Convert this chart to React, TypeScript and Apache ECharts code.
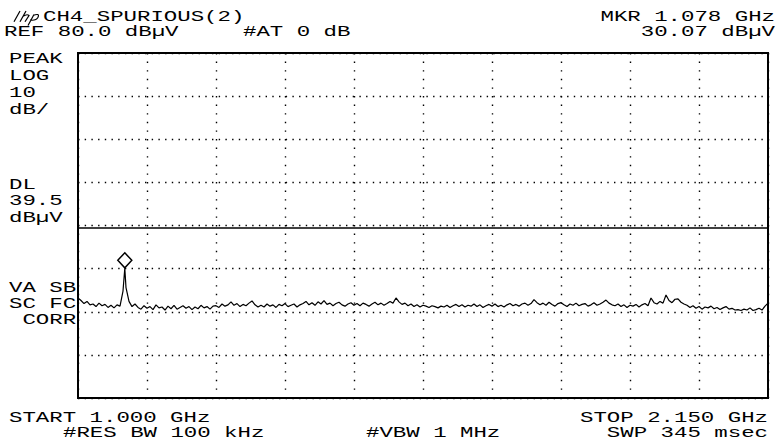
import React, { useEffect, useRef } from "react";
import * as echarts from "echarts";

// ---- instrument settings ----
const START_MHZ = 1000;
const STOP_MHZ = 2150;
const REF_LEVEL = 80;
const DB_PER_DIV = 10;
const DIVS_Y = 8;
const DIVS_X = 10;
const DISPLAY_LINE = 39.5;
const MARKER_MHZ = 1078;
const MARKER_LEVEL = 30.07;

// ---- trace levels (dBµV), sampled evenly from START to STOP ----
const TRACE_LEVELS = [
  23.2, 22.6, 21.9, 22.4, 21.6,
  21.8, 21.2, 22.0, 21.4, 21.7, 21.0, 21.5, 20.9, 21.6, 21.3,
  24.8, 25.6, 22.4, 21.2, 21.8,
  21.0, 20.6, 21.4, 20.8, 21.2, 20.5, 21.6, 20.9, 21.1, 20.4, 21.3, 20.7, 21.5,
  20.6, 21.0, 21.4, 20.8, 21.2, 20.5, 21.1, 20.7, 21.5, 20.9, 21.2, 20.6, 21.3,
  21.4, 21.0, 21.8, 21.3, 21.6, 22.3, 21.5, 21.9, 21.2, 21.7, 21.4, 22.0, 22.5, 21.6, 21.1,
  21.5, 21.1, 21.8, 21.3, 21.6, 21.0, 21.7, 21.4, 21.9, 21.2, 21.5, 21.8, 21.1, 21.6,
  21.9, 22.4, 21.6, 22.1, 21.5, 22.3, 21.8, 22.6, 21.7, 22.0, 21.4, 21.9, 22.2, 21.6,
  21.3, 21.8, 22.1, 21.5, 21.9, 21.4, 22.0, 21.7, 21.3, 21.8, 22.2, 21.6, 22.0, 21.5,
  21.9, 22.4, 22.0, 23.2,
  22.3, 21.7, 22.0, 21.4, 21.8, 21.2, 21.6, 21.1, 21.5, 21.3, 21.0, 21.4, 21.2, 20.9,
  21.3, 21.1, 21.5, 21.0, 21.4, 21.7, 21.2, 21.6, 21.1, 21.5, 21.3, 21.8, 21.2, 21.6,
  21.0, 21.4, 21.7, 21.3, 21.8, 21.2, 21.5, 21.1, 21.6, 21.9, 21.4, 21.7, 21.3, 21.8,
  22.0, 21.5,
  21.9, 22.8, 22.1, 21.6,
  22.0, 21.5, 22.2, 21.7, 21.3, 21.9, 22.1, 21.6, 21.2, 21.8, 21.5, 22.0, 21.4, 21.7,
  21.9, 21.3, 21.6, 22.1, 21.5, 21.8, 22.2,
  22.7, 22.0, 21.6,
  21.4, 21.8, 21.2, 21.6, 21.0, 21.5, 21.3, 21.7, 21.1, 21.6, 21.9, 21.4,
  23.2, 22.1, 21.8, 22.4, 22.0, 23.9, 22.6, 22.1, 22.9, 23.0, 22.2, 21.8,
  21.5, 21.0, 21.4, 20.8, 21.2, 20.6, 21.1, 20.9, 21.3, 20.7, 21.0, 20.5, 20.9, 21.2,
  20.6, 20.8, 20.4, 20.5, 20.3, 20.6, 20.4, 20.9, 20.3,
  20.5, 20.8, 20.4, 21.3, 22.0,
];

// ---- annotation texts ----
const TITLE = "CH4_SPURIOUS(2)";
const REF_TEXT = "REF 80.0 dBµV";
const ATTEN_TEXT = "#AT 0 dB";
const MKR_FREQ_TEXT = "MKR 1.078 GHz";
const MKR_LEVEL_TEXT = "30.07 dBµV";
const SCALE_LABELS = ["PEAK", "LOG", "10", "dB/"];
const DL_LABELS = ["DL", "39.5", "dBµV"];
const STATUS_LABELS = ["VA SB", "SC FC", " CORR"];
const START_TEXT = "START 1.000 GHz";
const RBW_TEXT = "#RES BW 100 kHz";
const VBW_TEXT = "#VBW 1 MHz";
const STOP_TEXT = "STOP 2.150 GHz";
const SWP_TEXT = "SWP 345 msec";

const HP_LOGO_PATH =
  "M0 12 L6 0 M6 12 L12 0 M9 6 Q13 3 15 5 L11 12 M14 16 L20 4 M19 5 Q26 2 24 7 Q22 11 16 10";

export default function App() {
  const ref = useRef<HTMLDivElement>(null);

  useEffect(() => {
    document.body.style.margin = "0";
    try {
      echarts.graphic.registerShape(
        "hplogo",
        echarts.graphic.extendPath(HP_LOGO_PATH, {})
      );
    } catch (e) {}
    const chart = echarts.init(ref.current!, null, { renderer: "svg" });

    const span = STOP_MHZ - START_MHZ;
    const step = span / (TRACE_LEVELS.length - 1);
    const pts: [number, number][] = TRACE_LEVELS.map((v, i) => [i * step, v]);
    const mk: [number, number] = [MARKER_MHZ - START_MHZ, MARKER_LEVEL];
    const idx = pts.findIndex((p) => p[0] > mk[0]);
    pts.splice(idx, 0, mk);

    const FONT = "Liberation Mono";
    const FS = 14;
    const SX = 1.6;
    const txt = (text: string, x: number, y: number, align: string = "left") => ({
      type: "text",
      x,
      y,
      scaleX: SX,
      silent: true,
      style: {
        text,
        x: 0,
        y: 0,
        fill: "#000",
        fontFamily: FONT,
        fontSize: FS,
        textAlign: align,
        textVerticalAlign: "middle",
      },
    });

    const graphics: any[] = [
      {
        type: "hplogo",
        x: 14,
        y: 11,
        scaleX: 1,
        scaleY: 0.9,
        style: { fill: null, stroke: "#000", lineWidth: 1.2 },
      },
      txt(TITLE, 43, 17),
      txt(REF_TEXT, 4, 32),
      txt(ATTEN_TEXT, 243, 32),
      txt(MKR_FREQ_TEXT, 775, 17, "right"),
      txt(MKR_LEVEL_TEXT, 775, 32, "right"),
      ...SCALE_LABELS.map((s, i) => txt(s, 9, 59 + i * 17)),
      ...DL_LABELS.map((s, i) => txt(s, 9, 185 + i * 16.5)),
      ...STATUS_LABELS.map((s, i) => txt(s, 9, 288 + i * 16)),
      txt(START_TEXT, 9, 418),
      txt(RBW_TEXT, 63, 433),
      txt(VBW_TEXT, 366, 433),
      txt(STOP_TEXT, 768, 418, "right"),
      txt(SWP_TEXT, 768, 433, "right"),
    ];

    chart.setOption({
      animation: false,
      backgroundColor: "#fff",
      grid: {
        left: 78,
        top: 53,
        width: 690,
        height: 345,
        show: true,
        borderColor: "#000",
        borderWidth: 2,
        backgroundColor: "transparent",
        z: 5,
      },
      xAxis: {
        type: "value",
        min: 0,
        max: span,
        interval: span / DIVS_X,
        axisLine: { show: false },
        axisTick: { show: false },
        axisLabel: { show: false },
        splitLine: {
          show: true,
          lineStyle: { color: "#000", width: 1.4, type: [1.4, 7.2] },
        },
      },
      yAxis: {
        type: "value",
        min: REF_LEVEL - DB_PER_DIV * DIVS_Y,
        max: REF_LEVEL,
        interval: DB_PER_DIV,
        axisLine: { show: false },
        axisTick: { show: false },
        axisLabel: { show: false },
        splitLine: {
          show: true,
          lineStyle: { color: "#000", width: 1.4, type: [1.4, 5.3] },
        },
      },
      series: [
        {
          type: "line",
          data: pts,
          showSymbol: false,
          symbol: "none",
          silent: true,
          lineStyle: { color: "#000", width: 1.2 },
          markLine: {
            silent: true,
            symbol: "none",
            label: { show: false },
            lineStyle: { color: "#000", width: 1.5, type: "solid" },
            data: [{ yAxis: DISPLAY_LINE }],
          },
          markPoint: {
            silent: true,
            symbol: "diamond",
            symbolSize: [14, 15],
            symbolOffset: [0, -8],
            label: { show: false },
            itemStyle: { color: "#fff", borderColor: "#000", borderWidth: 1.5 },
            data: [{ coord: mk }],
          },
        },
      ],
      graphic: graphics,
    });

    return () => chart.dispose();
  }, []);

  return <div ref={ref} style={{ width: 779, height: 440, background: "#fff" }} />;
}
